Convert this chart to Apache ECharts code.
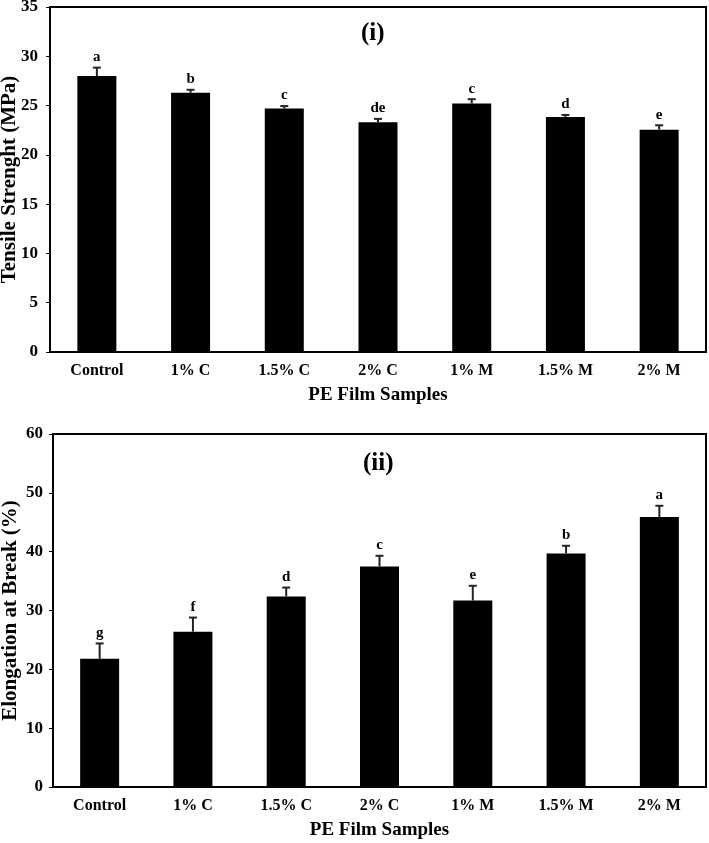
<!DOCTYPE html>
<html>
<head>
<meta charset="utf-8">
<script src="https://cdn.jsdelivr.net/npm/echarts@6/dist/echarts.min.js"></script>
<style>html,body{margin:0;padding:0;background:#fff}#c{width:709px;height:843px}</style>
</head>
<body>
<div id="c"></div>
<script>
const categories = ['Control', '1% C', '1.5% C', '2% C', '1% M', '1.5% M', '2% M'];
const tensile = [28.0, 26.3, 24.7, 23.3, 25.2, 23.85, 22.55];
const tensileErr = [0.85, 0.3, 0.25, 0.35, 0.45, 0.2, 0.45];
const tensileLetters = ['a', 'b', 'c', 'de', 'c', 'd', 'e'];
const elong = [21.8, 26.4, 32.4, 37.5, 31.7, 39.7, 45.9];
const elongErr = [2.6, 2.4, 1.5, 1.8, 2.5, 1.3, 1.9];
const elongLetters = ['g', 'f', 'd', 'c', 'e', 'b', 'a'];
const tensileTicks = [0, 5, 10, 15, 20, 25, 30, 35];
const elongTicks = [0, 10, 20, 30, 40, 50, 60];

const FONT = '"Liberation Serif", "Times New Roman", serif';
const chart = echarts.init(document.getElementById('c'));

function errSeries(idx, vals, errs, letters) {
  return {
    type: 'custom',
    xAxisIndex: idx, yAxisIndex: idx,
    data: vals.map((v, i) => [i, v, errs[i], letters[i]]),
    encode: { x: 0, y: 1 },
    z: 5,
    renderItem: function (params, api) {
      const x = api.value(0), v = api.value(1), e = api.value(2);
      const p0 = api.coord([x, v]);
      const p1 = api.coord([x, v + e]);
      const cap = 4;
      return {
        type: 'group',
        children: [
          { type: 'line', shape: { x1: p0[0], y1: p0[1], x2: p1[0], y2: p1[1] }, style: { stroke: '#222', lineWidth: 2 } },
          { type: 'line', shape: { x1: p1[0] - cap, y1: p1[1], x2: p1[0] + cap, y2: p1[1] }, style: { stroke: '#222', lineWidth: 2 } },
          { type: 'text', x: p1[0], y: p1[1] - 3, style: { text: api.value(3), fill: '#000', font: 'bold 15px ' + FONT, align: 'center', verticalAlign: 'bottom' } }
        ]
      };
    }
  };
}

const axisLabelStyle = { color: '#000', fontFamily: FONT, fontWeight: 'bold', fontSize: 16 };
const yLabelStyle = { color: '#000', fontFamily: FONT, fontWeight: 'bold', fontSize: 17 };
const nameStyle = { color: '#000', fontFamily: FONT, fontWeight: 'bold', fontSize: 19 };
const yNameStyle = { color: '#000', fontFamily: FONT, fontWeight: 'bold', fontSize: 21 };

chart.setOption({
  animation: false,
  backgroundColor: '#fff',
  title: [
    { text: '(i)', left: 356, top: 16, textStyle: { fontFamily: FONT, fontWeight: 'bold', fontSize: 25, color: '#000' } },
    { text: '(ii)', left: 358, top: 446, textStyle: { fontFamily: FONT, fontWeight: 'bold', fontSize: 25, color: '#000' } }
  ],
  grid: [
    { left: 50, right: 3, top: 7, height: 345, show: true, borderColor: '#000', borderWidth: 2, backgroundColor: 'transparent', containLabel: false, outerBoundsMode: 'none' },
    { left: 53, right: 3, top: 434, height: 353, show: true, borderColor: '#000', borderWidth: 2, backgroundColor: 'transparent', containLabel: false, outerBoundsMode: 'none' }
  ],
  xAxis: [0, 1].map(i => ({
    type: 'category', gridIndex: i, data: categories,
    name: 'PE Film Samples', nameLocation: 'middle', nameGap: 34, nameTextStyle: nameStyle,
    axisLine: { lineStyle: { color: '#000', width: 2 } },
    axisTick: { show: false },
    axisLabel: Object.assign({ margin: 11, interval: 0 }, axisLabelStyle)
  })),
  yAxis: [
    { type: 'value', gridIndex: 0, min: 0, max: tensileTicks[tensileTicks.length - 1], interval: tensileTicks[1] - tensileTicks[0],
      name: 'Tensile Strenght (MPa)', nameLocation: 'middle', nameGap: 30, nameMoveOverlap: false, nameTextStyle: yNameStyle,
      axisLine: { show: true, lineStyle: { color: '#000', width: 2 } },
      axisTick: { show: true, length: 4, lineStyle: { color: '#000' } },
      splitLine: { show: false },
      axisLabel: Object.assign({ margin: 12 }, yLabelStyle) },
    { type: 'value', gridIndex: 1, min: 0, max: elongTicks[elongTicks.length - 1], interval: elongTicks[1] - elongTicks[0],
      name: 'Elongation at Break (%)', nameLocation: 'middle', nameGap: 32, nameMoveOverlap: false, nameTextStyle: yNameStyle,
      axisLine: { show: true, lineStyle: { color: '#000', width: 2 } },
      axisTick: { show: true, length: 4, lineStyle: { color: '#000' } },
      splitLine: { show: false },
      axisLabel: Object.assign({ margin: 10 }, yLabelStyle) }
  ],
  series: [
    { type: 'bar', xAxisIndex: 0, yAxisIndex: 0, data: tensile, barWidth: 39, itemStyle: { color: '#000' } },
    errSeries(0, tensile, tensileErr, tensileLetters),
    { type: 'bar', xAxisIndex: 1, yAxisIndex: 1, data: elong, barWidth: 39, itemStyle: { color: '#000' } },
    errSeries(1, elong, elongErr, elongLetters)
  ]
});
</script>
</body>
</html>
